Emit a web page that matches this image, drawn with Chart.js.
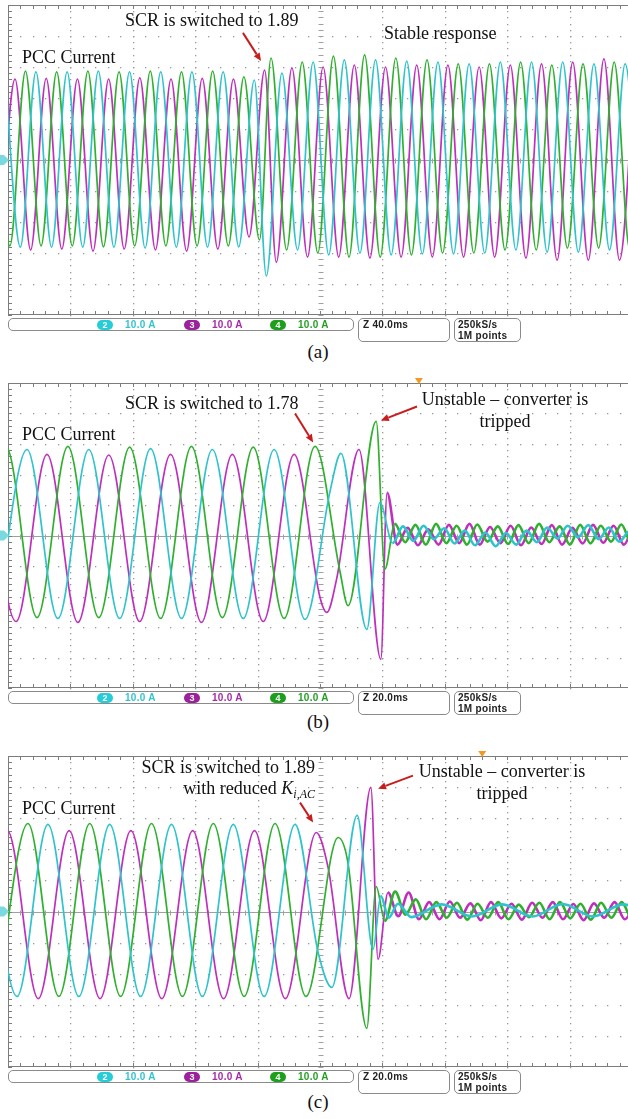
<!DOCTYPE html>
<html>
<head>
<meta charset="utf-8">
<script src="https://cdn.jsdelivr.net/npm/chart.js@4.4.1/dist/chart.umd.min.js"></script>
<style>
  html, body { margin: 0; padding: 0; background: #fff; width: 628px; height: 1119px; overflow: hidden; }
  #page { position: relative; width: 628px; height: 1119px; overflow: hidden; }
  canvas.scope { position: absolute; left: 0; }
  .note { position: absolute; font-family: 'Liberation Serif', 'Times New Roman', serif; font-size: 18px; line-height: 18px; color: #111; white-space: nowrap; z-index: 2; }
  .caption { position: absolute; width: 60px; left: 288px; text-align: center; font-family: 'Liberation Serif', 'Times New Roman', serif; font-size: 19px; line-height: 19px; color: #111; }
  .box { position: absolute; border: 1px solid #8a8a8a; border-radius: 5px; box-sizing: border-box; }
  .stat { position: absolute; font-family: 'Liberation Sans', Arial, sans-serif; font-weight: bold; font-size: 10px; line-height: 11px; letter-spacing: 0.3px; white-space: nowrap; }
  .pill { position: absolute; width: 16px; height: 10px; border-radius: 5px; color: #fff; text-align: center; font-family: 'Liberation Sans', Arial, sans-serif; font-weight: bold; font-size: 9px; line-height: 10px; }
</style>
</head>
<body>
<div id="page">
  <canvas id="scopeA" class="scope" width="640" height="320" style="top:0px"></canvas>
  <canvas id="scopeB" class="scope" width="640" height="317" style="top:377px"></canvas>
  <canvas id="scopeC" class="scope" width="640" height="323" style="top:750px"></canvas>

  <div class="note" style="left:125px; top:11px;">SCR is switched to 1.89</div>
  <div class="note" style="left:22px; top:48px;">PCC Current</div>
  <div class="note" style="left:384px; top:24px;">Stable response</div>
  <div class="caption" style="top:342px;">(a)</div>

  <div class="note" style="left:125px; top:394px;">SCR is switched to 1.78</div>
  <div class="note" style="left:22px; top:425px;">PCC Current</div>
  <div class="note" style="left:405px; width:200px; top:388px; line-height:22px; text-align:center;">Unstable – converter is<br>tripped</div>
  <div class="caption" style="top:712px;">(b)</div>

  <div class="note" style="left:115px; width:200px; top:757px; line-height:21px; text-align:right;">SCR is switched to 1.89<br>with reduced <i>K</i><span style="font-size:12px; position:relative; top:4px;"><i>i,AC</i></span></div>
  <div class="note" style="left:22px; top:799px;">PCC Current</div>
  <div class="note" style="left:402px; width:200px; top:760px; line-height:22px; text-align:center;">Unstable – converter is<br>tripped</div>
  <div class="caption" style="top:1092px;">(c)</div>
</div>
<script>
// ---- channel settings (bottom status bar) ----
const channelIds = ['2', '3', '4'];
const channelScales = ['10.0 A', '10.0 A', '10.0 A'];
const zoomLabels = ['Z 40.0ms', 'Z 20.0ms', 'Z 20.0ms'];
const rateLabels = ['250kS/s', '1M points'];

// ---- (a) SCR switched to 1.89, 40 ms/div ; extremes of each phase current (A) ----
const aStep = 10;
const aCyanStart = -2.1;
const aCyanPre = [28.4, -28.1, 28.4, -28.1, 28.4, -28.1, 28.7, -28.1, 28.4, -28.4, 28.4, -28.1, 28.4, -28.1, 28.4, -28, 25.8];
const aCyanPostStart = 165.6;
const aCyanPost = [-37.4, 28, -29, 31.6, -30.6, 32.3, -30, 32.3, -30.6, 31.9, -30.3, 31.6, -30.3, 31, -30, 31.6, -29, 31.6, -29.7, 31.6, -29.7, 31, -29, 31, -29];
const aMagentaStart = -5.5;
const aMagentaPre = [-28.7, 26.1, -29, 26.3, -28.7, 26.1, -29.4, 26.1, -28.7, 26.5, -29, 26.1, -29.4, 26.3, -28.7, 26.1, -24.8, 29];
const aMagentaPostStart = 172;
const aMagentaPost = [-33, 29.7, -31.3, 30, -31.3, 30.6, -31.6, 30, -31.3, 30.6, -31.3, 30.6, -31.3, 30, -31.3, 30.6, -31.6, 31, -32.3, 31.6, -32.3, 32.6, -32.3, 31];
const aGreenStart = -8.8;
const aGreenPre = [28.7, -27.7, 28.7, -27.7, 28.4, -27.7, 28.7, -28, 28.4, -27.7, 28.7, -27.7, 28.4, -27.7, 28.7, -27.7, 26.8, -25.8];
const aGreenPostStart = 168.6;
const aGreenPost = [32.9, -29, 31.6, -30, 33.5, -31.3, 33.9, -31.3, 32.9, -30.6, 32.3, -30, 31, -30, 31, -29, 31.6, -29, 30.6, -28.4, 31, -28.4, 31.6, -29, 31];

// ---- (b) SCR switched to 1.78, 20 ms/div ----
const bStep = 9.9;
const rippleStep = 3.3;
const bCyanStart = -3.8;
const bCyanPre = [-27.2, 28.2, -27.2, 28.2, -27.2, 28.5, -27.2, 28.2, -27.2, 28.2, -27.5];
const bCyanTrip = [[103.2, 14.4], [106.7, 26.9], [115, -30.8], [119.2, 10.8]];
const bCyanRippleStart = 123.3;
const bCyanRipple = [-2.5, 3, -1.8, 3.2, -1.2, 2.4, -2.6, 1.6, -3.2, 1, -3.5, 0.8, -3, 1.6, -2.2, 2.6, -1, 3.2, -0.6, 3.4, -1.2, 2.6, -2, 1.4, -3];
const bMagentaStart = -7.3;
const bMagentaPre = [26.6, -28.2, 26.6, -28.5, 26.4, -28.2, 26.6, -28.5, 26.6, -28.2, 26.6];
const bMagentaTrip = [[100, -20.3], [102.2, -25.2], [105.3, -14.4], [112.5, 28.2], [119.5, -40.6], [121.5, 14]];
const bMagentaRippleStart = 124.8;
const bMagentaRipple = [-3, 2.5, -3.2, 2, -3, 3.5, -2.5, 3.8, -3, 2.8, -2.5, 3.2, -3.2, 2.6, -2.8, 3.4, -3, 2.5, -2.6, 3.5, -2.4, 3.2, -3, 2.6, -2.2];
const bGreenStart = -10.5;
const bGreenPre = [-26.9, 29, -26.9, 29.2, -26.9, 29, -27.2, 29.2, -26.9, 29, -27.2, 29.2];
const bGreenTrip = [[106.4, -11.8], [109, -23], [118, 37.4], [120.8, -11]];
const bGreenRippleStart = 124;
const bGreenRipple = [3.8, -2.2, 3.5, -3, 3.8, -2.5, 3.2, -3, 3.6, -2, 3, -2.8, 3.4, -2.5, 3.8, -2.2, 3, -3, 3.5, -2.6, 3.2, -2, 3.6, -2.8, 3];

// ---- (c) SCR switched to 1.89 with reduced Ki,AC, 20 ms/div ----
const cStep = 9.9;
const cCyanStart = -7;
const cCyanPre = [28, -27.3, 28, -27.3, 28, -27.3, 28, -27.3, 28, -27.3, 28];
const cCyanTrip = [[99.4, -13.2], [103.8, -24.4], [111.9, 30.9], [117, -12.2], [119.5, 5], [122, -2], [125, 2.5]];
const cCyanSlowStart = 129.3;
const cCyanSlowStep = 9.7;
const cCyanSlow = [-1.8, 2.3, -1.6, 2.3, -1.6, 2.4, -1.6, 2.3, -1.6];
const cMagentaStart = -10.1;
const cMagentaPre = [-28, 26, -28, 26, -28, 26, -28, 26, -28, 26, -28, 25.4];
const cMagentaTrip = [[102.6, 14.1], [109.3, -28], [116.3, 39.9], [118.6, -15.4]];
const cMagentaRippleStart = 121.8;
const cMagentaRipple = [6.1, -1.5, 6.1, -2.5, 3, -2.5, 3.2, -2, 2.6, -2.8, 3, -2.2, 2.5, -2.6, 2.8, -2, 3, -2.5, 2.4, -2.8, 2.6, -2, 3, -2.5, 2.5];
const cGreenStart = -3.5;
const cGreenPre = [-27.3, 28.3, -27.3, 28.3, -27.3, 28.3, -27.3, 28.3, -27.3, 28.3, -27.3];
const cGreenTrip = [[105.8, 23.8], [108.9, 16], [115, -37.6], [118, 8]];
const cGreenRippleStart = 120.8;
const cGreenRipple = [-3, 6.4, -1, 3.9, -2.5, 3, -2, 2.8, -2.6, 2.5, -2, 3, -2.5, 2.2, -1.8, 2.8, -2.5, 3, -2.2, 2.5, -2.6, 2.8, -2, 3, -2.4, 2.6];

// ---- annotation arrows, in (ms, A) ----
const aArrows = [[150.6, 41, 162.2, 31.9]];
const bArrows = [[92, 40, 97.8, 30.5], [131.1, 42.3, 119.5, 37.7]];
const cArrows = [[93.6, 35, 97.8, 28.6], [129.8, 43.7, 118.6, 39.5]];

const colors = { cyan: '#2fc3cc', magenta: '#bf2fbd', green: '#2fb02f' };
const pillColors = ['#27cdd6', '#9c229c', '#1d9e1d'];
const textColors = ['#33c4cc', '#a52aa5', '#23a023'];

function grid(start, step, vals) {
  return vals.map((v, i) => ({ x: start + i * step, y: v }));
}
function pairs(list) {
  return list.map(([x, y]) => ({ x, y }));
}

const scopePlugin = {
  id: 'scope',
  beforeDatasetsDraw(chart, args, o) {
    const { ctx, chartArea: a, scales: { x, y } } = chart;
    const xs = [], ys = [];
    for (let i = 0; i <= 50; i++) xs.push(Math.round(x.getPixelForValue(i * o.xDiv / 5)));
    for (let j = 0; j <= 50; j++) ys.push(Math.round(y.getPixelForValue(-50 + j * 2)));
    ctx.save();
    ctx.fillStyle = '#999';
    for (let i = 5; i < 50; i += 5) {
      if (i === 25) continue;
      for (const py of ys) ctx.fillRect(xs[i], py, 1.3, 1.3);
    }
    for (let j = 5; j < 50; j += 5) {
      if (j === 25) continue;
      for (const px of xs) ctx.fillRect(px, ys[j], 1.3, 1.3);
    }
    const cx = xs[25] + 0.5, cy = ys[25] + 0.5;
    ctx.strokeStyle = '#a0a0a0';
    ctx.lineWidth = 1;
    ctx.beginPath();
    ctx.moveTo(a.left, cy); ctx.lineTo(a.right, cy);
    for (const px of xs) { ctx.moveTo(px + 0.5, cy - 2); ctx.lineTo(px + 0.5, cy + 3); }
    for (const py of ys) { ctx.moveTo(cx - 2, py + 0.5); ctx.lineTo(cx + 3, py + 0.5); }
    ctx.stroke();
    ctx.strokeStyle = '#7c7c7c';
    ctx.beginPath();
    for (const px of xs) {
      ctx.moveTo(px + 0.5, a.top); ctx.lineTo(px + 0.5, a.top + 4);
      ctx.moveTo(px + 0.5, a.bottom); ctx.lineTo(px + 0.5, a.bottom - 4);
    }
    for (const py of ys) {
      ctx.moveTo(a.left, py + 0.5); ctx.lineTo(a.left + 4, py + 0.5);
      ctx.moveTo(a.right, py + 0.5); ctx.lineTo(a.right - 4, py + 0.5);
    }
    ctx.stroke();
    ctx.strokeRect(a.left + 0.5, a.top + 0.5, a.width - 1, a.height - 1);
    ctx.restore();
  },
  afterDatasetsDraw(chart, args, o) {
    const { ctx, chartArea: a, scales: { x, y } } = chart;
    ctx.save();
    // channel 2 ground marker
    const gy = y.getPixelForValue(0);
    ctx.fillStyle = '#7ad9df';
    ctx.beginPath();
    ctx.moveTo(0, gy - 5); ctx.lineTo(4, gy - 5); ctx.lineTo(a.left + 1, gy);
    ctx.lineTo(4, gy + 5); ctx.lineTo(0, gy + 5); ctx.closePath(); ctx.fill();
    // trigger marker
    if (o.trigger != null) {
      const tx = x.getPixelForValue(o.trigger);
      ctx.fillStyle = '#f39a1e';
      ctx.beginPath();
      ctx.moveTo(tx - 4, a.top - 5); ctx.lineTo(tx + 4, a.top - 5); ctx.lineTo(tx, a.top + 1);
      ctx.closePath(); ctx.fill();
    }
    // red arrows
    ctx.strokeStyle = '#c81d1d';
    ctx.fillStyle = '#c81d1d';
    ctx.lineWidth = 2;
    for (const [t0, v0, t1, v1] of o.arrows) {
      const x0 = x.getPixelForValue(t0), y0 = y.getPixelForValue(v0);
      const x1 = x.getPixelForValue(t1), y1 = y.getPixelForValue(v1);
      const ang = Math.atan2(y1 - y0, x1 - x0);
      const hl = 8, hw = 3.5;
      const bx = x1 - hl * Math.cos(ang), by = y1 - hl * Math.sin(ang);
      ctx.beginPath(); ctx.moveTo(x0, y0); ctx.lineTo(bx, by); ctx.stroke();
      ctx.beginPath();
      ctx.moveTo(x1, y1);
      ctx.lineTo(bx + hw * Math.sin(ang), by - hw * Math.cos(ang));
      ctx.lineTo(bx - hw * Math.sin(ang), by + hw * Math.cos(ang));
      ctx.closePath(); ctx.fill();
    }
    ctx.restore();
  }
};

function makeScope(id, xMax, xDiv, pad, series, trigger, arrows, tripT) {
  const datasets = series.map(s => ({
    data: s.data,
    borderColor: s.color,
    borderWidth: 1.7,
    pointRadius: 0,
    fill: false,
    cubicInterpolationMode: 'monotone',
    segment: {
      borderWidth: ctx => (tripT != null && ctx.p0.parsed.x > tripT ? 2.6 : 1.7)
    }
  }));
  return new Chart(document.getElementById(id), {
    type: 'line',
    data: { datasets },
    options: {
      responsive: false,
      animation: false,
      events: [],
      layout: { padding: { left: 8, right: 8, top: pad, bottom: pad } },
      plugins: {
        legend: { display: false },
        tooltip: { enabled: false },
        scope: { xDiv, trigger, arrows }
      },
      scales: {
        x: {
          type: 'linear', min: 0, max: xMax,
          grid: { display: false }, border: { display: false }, ticks: { display: false },
          afterFit: s => { s.height = 0; }
        },
        y: {
          type: 'linear', min: -50, max: 50,
          grid: { display: false }, border: { display: false }, ticks: { display: false },
          afterFit: s => { s.width = 0; }
        }
      }
    },
    plugins: [scopePlugin]
  });
}

makeScope('scopeA', 400, 40, 5, [
  { color: colors.cyan, data: [...grid(aCyanStart, aStep, aCyanPre), ...grid(aCyanPostStart, aStep, aCyanPost)] },
  { color: colors.green, data: [...grid(aGreenStart, aStep, aGreenPre), ...grid(aGreenPostStart, aStep, aGreenPost)] },
  { color: colors.magenta, data: [...grid(aMagentaStart, aStep, aMagentaPre), ...grid(aMagentaPostStart, aStep, aMagentaPost)] }
], null, aArrows, null);

makeScope('scopeB', 200, 20, 6, [
  { color: colors.cyan, data: [...grid(bCyanStart, bStep, bCyanPre), ...pairs(bCyanTrip), ...grid(bCyanRippleStart, rippleStep, bCyanRipple)] },
  { color: colors.green, data: [...grid(bGreenStart, bStep, bGreenPre), ...pairs(bGreenTrip), ...grid(bGreenRippleStart, rippleStep, bGreenRipple)] },
  { color: colors.magenta, data: [...grid(bMagentaStart, bStep, bMagentaPre), ...pairs(bMagentaTrip), ...grid(bMagentaRippleStart, rippleStep, bMagentaRipple)] }
], 131.7, bArrows, 121);

makeScope('scopeC', 200, 20, 6, [
  { color: colors.cyan, data: [...grid(cCyanStart, cStep, cCyanPre), ...pairs(cCyanTrip), ...grid(cCyanSlowStart, cCyanSlowStep, cCyanSlow)] },
  { color: colors.green, data: [...grid(cGreenStart, cStep, cGreenPre), ...pairs(cGreenTrip), ...grid(cGreenRippleStart, rippleStep, cGreenRipple)] },
  { color: colors.magenta, data: [...grid(cMagentaStart, cStep, cMagentaPre), ...pairs(cMagentaTrip), ...grid(cMagentaRippleStart, rippleStep, cMagentaRipple)] }
], 152, cArrows, 119);

// ---- status bars ----
const page = document.getElementById('page');
function el(cls, css, html) {
  const d = document.createElement('div');
  d.className = cls;
  d.style.cssText = css;
  if (html != null) d.innerHTML = html;
  page.appendChild(d);
  return d;
}
const pillLefts = [97, 184, 270];
const scaleLefts = [125, 212, 298];
[318, 691, 1070].forEach((top, k) => {
  el('box', `left:8px; top:${top}px; width:346px; height:13px;`);
  channelIds.forEach((ch, i) => {
    el('pill', `left:${pillLefts[i]}px; top:${top + 1.5}px; background:${pillColors[i]};`, ch);
    el('stat', `left:${scaleLefts[i]}px; top:${top + 1}px; color:${textColors[i]};`, channelScales[i]);
  });
  el('box', `left:358px; top:${top}px; width:92px; height:24px;`);
  el('stat', `left:363px; top:${top + 1}px; color:#222;`, zoomLabels[k]);
  el('box', `left:454px; top:${top}px; width:67px; height:24px;`);
  el('stat', `left:458px; top:${top + 1}px; color:#222;`, rateLabels.join('<br>'));
});
</script>
</body>
</html>
